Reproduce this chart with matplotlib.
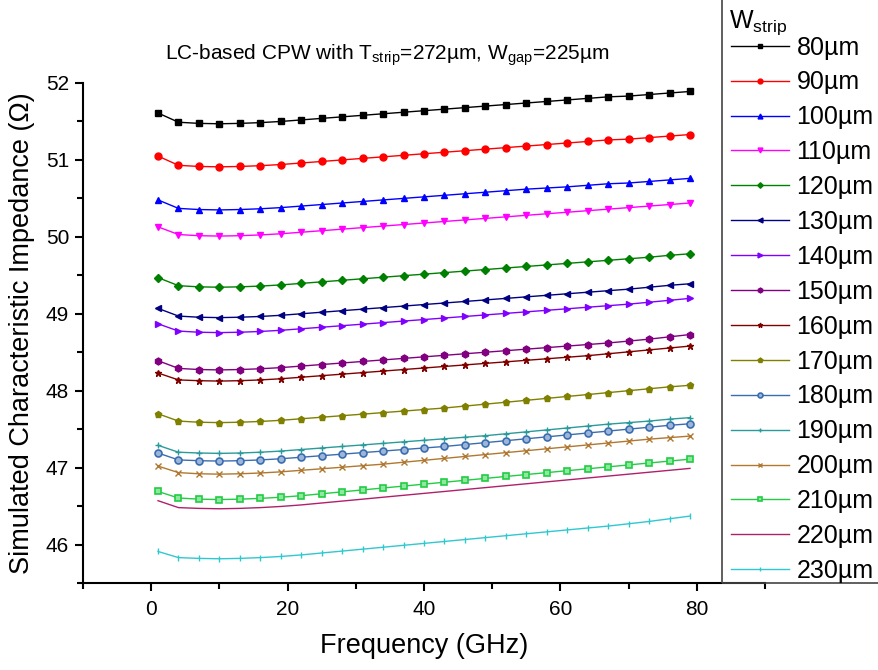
import matplotlib.pyplot as plt
from matplotlib.patches import Rectangle

plt.rcParams['font.family'] = ['Liberation Sans', 'DejaVu Sans']
plt.rcParams['mathtext.fontset'] = 'custom'
plt.rcParams['mathtext.rm'] = 'Liberation Sans'

# frequency points (GHz)
freq = [1, 4, 7, 10, 13, 16, 19, 22, 25, 28, 31, 34, 37, 40, 43, 46, 49, 52,
        55, 58, 61, 64, 67, 70, 73, 76, 79]

labels = ['80µm', '90µm', '100µm', '110µm', '120µm', '130µm', '140µm', '150µm',
          '160µm', '170µm', '180µm', '190µm', '200µm', '210µm', '220µm', '230µm']

# simulated impedance (Ohm)
z080 = [51.61, 51.49, 51.475, 51.47, 51.475, 51.485, 51.50, 51.52, 51.54, 51.56, 51.58, 51.60, 51.62, 51.64,
        51.66, 51.68, 51.70, 51.72, 51.74, 51.76, 51.78, 51.80, 51.82, 51.83, 51.85, 51.87, 51.89]
z090 = [51.05, 50.93, 50.915, 50.91, 50.915, 50.925, 50.94, 50.96, 50.98, 51.00, 51.02, 51.04, 51.06, 51.08,
        51.10, 51.12, 51.14, 51.16, 51.18, 51.20, 51.22, 51.24, 51.26, 51.27, 51.29, 51.31, 51.33]
z100 = [50.48, 50.37, 50.355, 50.35, 50.355, 50.365, 50.38, 50.40, 50.42, 50.44, 50.46, 50.48, 50.50, 50.52,
        50.54, 50.56, 50.58, 50.60, 50.62, 50.635, 50.65, 50.67, 50.69, 50.70, 50.72, 50.74, 50.76]
z110 = [50.13, 50.03, 50.015, 50.01, 50.015, 50.025, 50.04, 50.06, 50.08, 50.10, 50.12, 50.14, 50.16, 50.18,
        50.20, 50.22, 50.24, 50.26, 50.28, 50.30, 50.32, 50.34, 50.36, 50.38, 50.40, 50.42, 50.44]
z120 = [49.47, 49.365, 49.35, 49.345, 49.35, 49.36, 49.375, 49.395, 49.415, 49.435, 49.455, 49.475, 49.495, 49.515,
        49.535, 49.555, 49.575, 49.595, 49.615, 49.635, 49.655, 49.675, 49.695, 49.715, 49.735, 49.76, 49.78]
z130 = [49.07, 48.97, 48.955, 48.95, 48.955, 48.965, 48.98, 49.00, 49.02, 49.04, 49.06, 49.08, 49.10, 49.12,
        49.14, 49.16, 49.18, 49.20, 49.22, 49.24, 49.26, 49.28, 49.30, 49.32, 49.345, 49.37, 49.39]
z140 = [48.87, 48.775, 48.76, 48.755, 48.76, 48.77, 48.785, 48.805, 48.825, 48.845, 48.865, 48.885, 48.905, 48.925,
        48.945, 48.965, 48.985, 49.005, 49.025, 49.045, 49.065, 49.085, 49.105, 49.125, 49.15, 49.175, 49.20]
z150 = [48.39, 48.29, 48.275, 48.27, 48.275, 48.285, 48.30, 48.32, 48.34, 48.36, 48.38, 48.40, 48.42, 48.44,
        48.46, 48.48, 48.50, 48.52, 48.54, 48.56, 48.58, 48.60, 48.62, 48.645, 48.67, 48.70, 48.73]
z160 = [48.23, 48.14, 48.13, 48.125, 48.13, 48.14, 48.155, 48.175, 48.195, 48.215, 48.235, 48.255, 48.275, 48.295,
        48.315, 48.335, 48.355, 48.375, 48.395, 48.415, 48.435, 48.455, 48.48, 48.505, 48.53, 48.555, 48.58]
z170 = [47.70, 47.605, 47.59, 47.585, 47.59, 47.60, 47.615, 47.635, 47.655, 47.675, 47.695, 47.715, 47.735, 47.755,
        47.775, 47.80, 47.825, 47.85, 47.875, 47.90, 47.925, 47.95, 47.975, 48.00, 48.025, 48.05, 48.07]
z180 = [47.19, 47.10, 47.09, 47.085, 47.09, 47.10, 47.115, 47.135, 47.155, 47.175, 47.195, 47.215, 47.235, 47.255,
        47.275, 47.30, 47.325, 47.35, 47.375, 47.40, 47.425, 47.45, 47.475, 47.50, 47.525, 47.55, 47.57]
z190 = [47.29, 47.20, 47.19, 47.185, 47.19, 47.20, 47.215, 47.235, 47.255, 47.275, 47.295, 47.315, 47.335, 47.355,
        47.375, 47.395, 47.415, 47.44, 47.465, 47.49, 47.515, 47.54, 47.565, 47.585, 47.605, 47.63, 47.65]
z200 = [47.02, 46.935, 46.92, 46.915, 46.92, 46.93, 46.945, 46.965, 46.985, 47.005, 47.025, 47.045, 47.07, 47.095,
        47.12, 47.145, 47.17, 47.195, 47.22, 47.245, 47.27, 47.295, 47.32, 47.345, 47.37, 47.39, 47.41]
z210 = [46.69, 46.605, 46.59, 46.585, 46.59, 46.60, 46.615, 46.635, 46.66, 46.685, 46.71, 46.735, 46.76, 46.785,
        46.81, 46.835, 46.86, 46.885, 46.91, 46.935, 46.96, 46.985, 47.01, 47.035, 47.06, 47.085, 47.11]
z220 = [46.57, 46.48, 46.47, 46.465, 46.47, 46.48, 46.495, 46.515, 46.54, 46.565, 46.59, 46.615, 46.64, 46.665,
        46.69, 46.715, 46.74, 46.765, 46.79, 46.815, 46.84, 46.865, 46.89, 46.915, 46.94, 46.965, 46.99]
z230 = [45.91, 45.83, 45.82, 45.815, 45.82, 45.83, 45.845, 45.865, 45.89, 45.915, 45.94, 45.965, 45.99, 46.015,
        46.04, 46.065, 46.09, 46.115, 46.14, 46.165, 46.19, 46.215, 46.24, 46.27, 46.30, 46.335, 46.37]

series = [z080, z090, z100, z110, z120, z130, z140, z150,
          z160, z170, z180, z190, z200, z210, z220, z230]

colors = ['#000000', '#FF0000', '#0000FF', '#FF00FF', '#008000', '#000080', '#8000FF', '#800080',
          '#800000', '#808000', '#3A6DB0', '#2A9A9A', '#B07830', '#22CC44', '#B0206A', '#30C8D0']
markers = ['s', 'o', '^', 'v', 'D', '<', '>', 'h', '*', 'p', 'o', '+', 'x', 's', 'None', '|']

fig = plt.figure(figsize=(8.79, 6.70), dpi=100)
ax = fig.add_axes([83 / 879, 87 / 670, 682 / 879, 500 / 670])

for z, c, m, lab in zip(series, colors, markers, labels):
    kw = dict(color=c, marker=m, markersize=5, linewidth=1.0, label=lab)
    if m == 'D':
        kw['markersize'] = 4
    if lab == '180µm':
        kw.update(markerfacecolor='#9DB6D8', markeredgewidth=1.2)
    elif lab == '210µm':
        kw.update(markerfacecolor='#90E8A0', markeredgewidth=1.2)
    ax.plot(freq, z, **kw)

ax.set_xlim(-10, 90)
ax.set_ylim(45.5, 52)
ax.set_xticks([0, 20, 40, 60, 80])
ax.set_xticks([-10, 10, 30, 50, 70, 90], minor=True)
ax.set_yticks([46, 47, 48, 49, 50, 51, 52])
ax.set_yticks([45.5, 46.5, 47.5, 48.5, 49.5, 50.5, 51.5], minor=True)
ax.spines['top'].set_visible(False)
ax.spines['right'].set_visible(False)
for s in ('left', 'bottom'):
    ax.spines[s].set_linewidth(1.5)
ax.tick_params(which='major', length=6, width=1.5, direction='out')
ax.tick_params(which='minor', length=4, width=1.5, direction='out')
ax.tick_params(axis='x', labelsize=15, pad=6)
ax.tick_params(axis='y', labelsize=15, pad=4)

ax.set_xlabel('Frequency (GHz)', fontsize=19.5, labelpad=10)
ax.set_ylabel('Simulated Characteristic Impedance (Ω)', fontsize=19.5, labelpad=8)

fig.text(387 / 879, 1 - 55 / 670,
         r'LC-based CPW with T$\mathregular{_{strip}}$=272µm, W$\mathregular{_{gap}}$=225µm',
         ha='center', va='center', fontsize=15)

# legend panel
fig.add_artist(Rectangle((722 / 879, 87 / 670), 0.2, 0.9, transform=fig.transFigure,
                         facecolor='none', edgecolor='#444444', linewidth=1.2))
fig.text(729 / 879, 1 - 28 / 670, r'W$\mathregular{_{strip}}$', fontsize=18,
         ha='left', va='baseline')
leg = fig.legend(loc='upper left', bbox_to_anchor=(714 / 879, 1 - 18 / 670), frameon=False,
                 fontsize=18, handlelength=2.3, handletextpad=0.3, labelspacing=0.436,
                 markerscale=0.7, borderpad=0.2)

fig.savefig('out.png', dpi=100)
